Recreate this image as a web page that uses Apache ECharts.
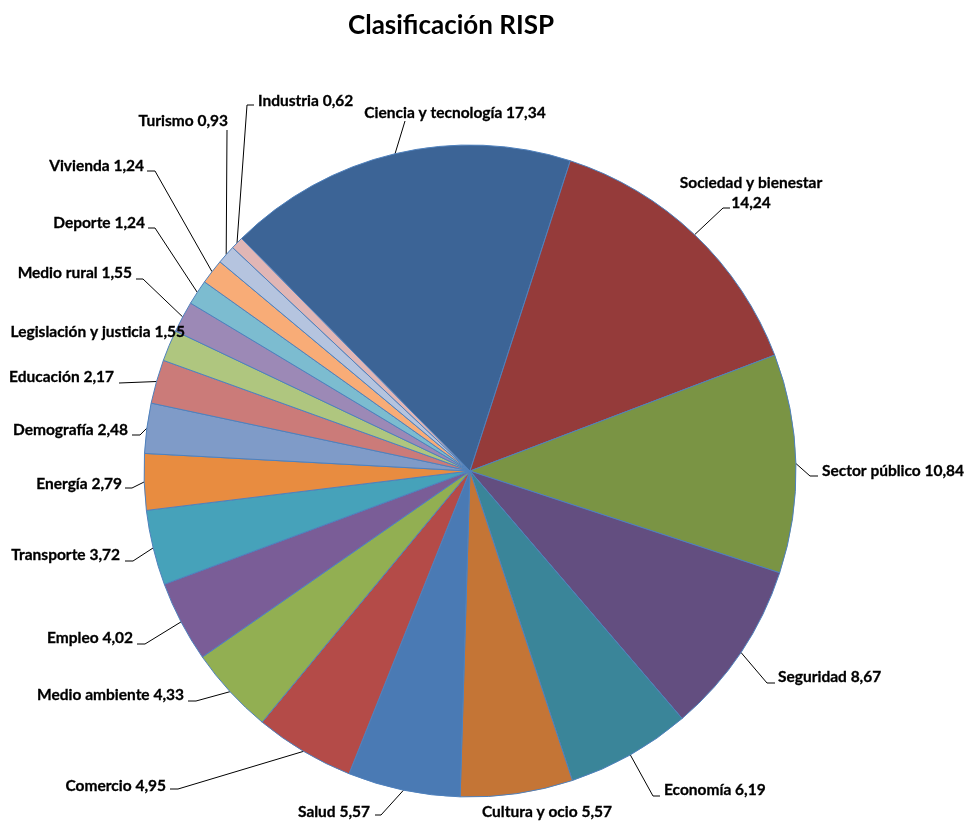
<!DOCTYPE html>
<html>
<head>
<meta charset="utf-8">
<script src="https://cdn.jsdelivr.net/npm/echarts@6/dist/echarts.min.js"></script>
<style>
  html, body { margin: 0; padding: 0; background: #ffffff; }
  #chart { width: 967px; height: 823px; }
</style>
</head>
<body>
<div id="chart"></div>
<script>
// ---- data ----
const categories = [
  'Ciencia y tecnología', 'Sociedad y bienestar', 'Sector público', 'Seguridad',
  'Economía', 'Cultura y ocio', 'Salud', 'Comercio', 'Medio ambiente', 'Empleo',
  'Transporte', 'Energía', 'Demografía', 'Educación', 'Legislación y justicia',
  'Medio rural', 'Deporte', 'Vivienda', 'Turismo', 'Industria'
];
const values = [
  17.34, 14.24, 10.84, 8.67,
  6.19, 5.57, 5.57, 4.95, 4.33, 4.02,
  3.72, 2.79, 2.48, 2.17, 1.55,
  1.55, 1.24, 1.24, 0.93, 0.62
];
const twoLineLabels = ['Sociedad y bienestar'];

// ---- styles / layout ----
const sliceColors = [
  '#3C6496', '#953B3A', '#7A9444', '#634E80',
  '#3A8599', '#C47536', '#4A7AB4', '#B44B48', '#92AF52', '#7A5D97',
  '#46A2BA', '#E88C40', '#7F9BC8', '#CB7B79', '#AFC67F',
  '#9C89B6', '#7CBCD0', '#F8AC77', '#B5C4DF', '#E1B6B5'
];
// label placement: text anchor (x, y, align) and leader line bend/end points
const labelPlacement = [
  { x: 455, y: 113, align: 'center', bend: [405, 121], end: [405, 121] },
  { x: 751, y: 193, align: 'center', bend: [723, 208], end: [730, 208] },
  { x: 822, y: 471, align: 'left',   bend: [810, 476], end: [818, 476] },
  { x: 778, y: 677, align: 'left',   bend: [767, 683], end: [775, 683] },
  { x: 664, y: 790, align: 'left',   bend: [653, 796], end: [660, 796] },
  { x: 547, y: 812, align: 'center', bend: null, end: null },
  { x: 370, y: 812, align: 'right',  bend: [381, 815], end: [375, 815] },
  { x: 166, y: 786, align: 'right',  bend: [178, 789], end: [170, 789] },
  { x: 184, y: 695, align: 'right',  bend: [196, 701], end: [188, 701] },
  { x: 133, y: 638, align: 'right',  bend: [145, 644], end: [137, 644] },
  { x: 120, y: 555, align: 'right',  bend: [133, 561], end: [125, 561] },
  { x: 122, y: 484, align: 'right',  bend: [132, 488], end: [125, 488] },
  { x: 128, y: 430, align: 'right',  bend: [140, 435], end: [132, 435] },
  { x: 114, y: 377, align: 'right',  bend: [119, 383], end: [119, 383] },
  { x: 185, y: 332, align: 'right',  bend: null, end: null },
  { x: 132, y: 273, align: 'right',  bend: [143, 279], end: [136, 279] },
  { x: 145, y: 223, align: 'right',  bend: [155, 228], end: [148, 228] },
  { x: 144, y: 166, align: 'right',  bend: [155, 171], end: [147, 171] },
  { x: 228, y: 121, align: 'right',  bend: [227, 130], end: [227, 130] },
  { x: 258, y: 101, align: 'left',   bend: [247, 105], end: [254, 105] }
];

const FONT = 'Lato, "Open Sans", sans-serif';

function fmt(v) { return v.toFixed(2).replace('.', ','); }

const pieData = categories.map(function (name, i) {
  return { name: name, value: values[i], itemStyle: { color: sliceColors[i] } };
});

const chart = echarts.init(document.getElementById('chart'), null, { renderer: 'canvas' });
chart.setOption({
  animation: false,
  backgroundColor: '#ffffff',
  title: {
    text: 'Clasificación RISP',
    left: 446,
    top: 8,
    textAlign: 'center',
    textStyle: { fontFamily: FONT, fontWeight: 'bold', fontSize: 26, color: '#000000' }
  },
  series: [{
    type: 'pie',
    center: [470, 471],
    radius: 326,
    startAngle: 134.5,
    clockwise: true,
    avoidLabelOverlap: false,
    data: pieData,
    itemStyle: { borderColor: '#4F81BD', borderWidth: 1 },
    label: {
      show: true,
      position: 'outside',
      fontFamily: FONT,
      fontWeight: 'bold',
      fontSize: 15.5,
      color: '#000000',
      textBorderColor: '#000000',
      textBorderWidth: 0.3,
      lineHeight: 20,
      formatter: function (p) {
        const sep = twoLineLabels.indexOf(p.name) >= 0 ? '\n' : ' ';
        return p.name + sep + fmt(p.value);
      }
    },
    labelLine: { show: true, length: 10, length2: 8, lineStyle: { color: '#000000', width: 1 } },
    emphasis: { disabled: true },
    labelLayout: function (params) {
      const s = labelPlacement[params.dataIndex];
      const out = { x: s.x, y: s.y, align: s.align, verticalAlign: 'middle', hideOverlap: false, moveOverlap: null };
      if (params.labelLinePoints) {
        const edge = params.labelLinePoints[0];
        out.labelLinePoints = s.end
          ? [edge, s.bend, s.end]
          : [edge, edge, edge];
      }
      return out;
    }
  }]
});
</script>
</body>
</html>
